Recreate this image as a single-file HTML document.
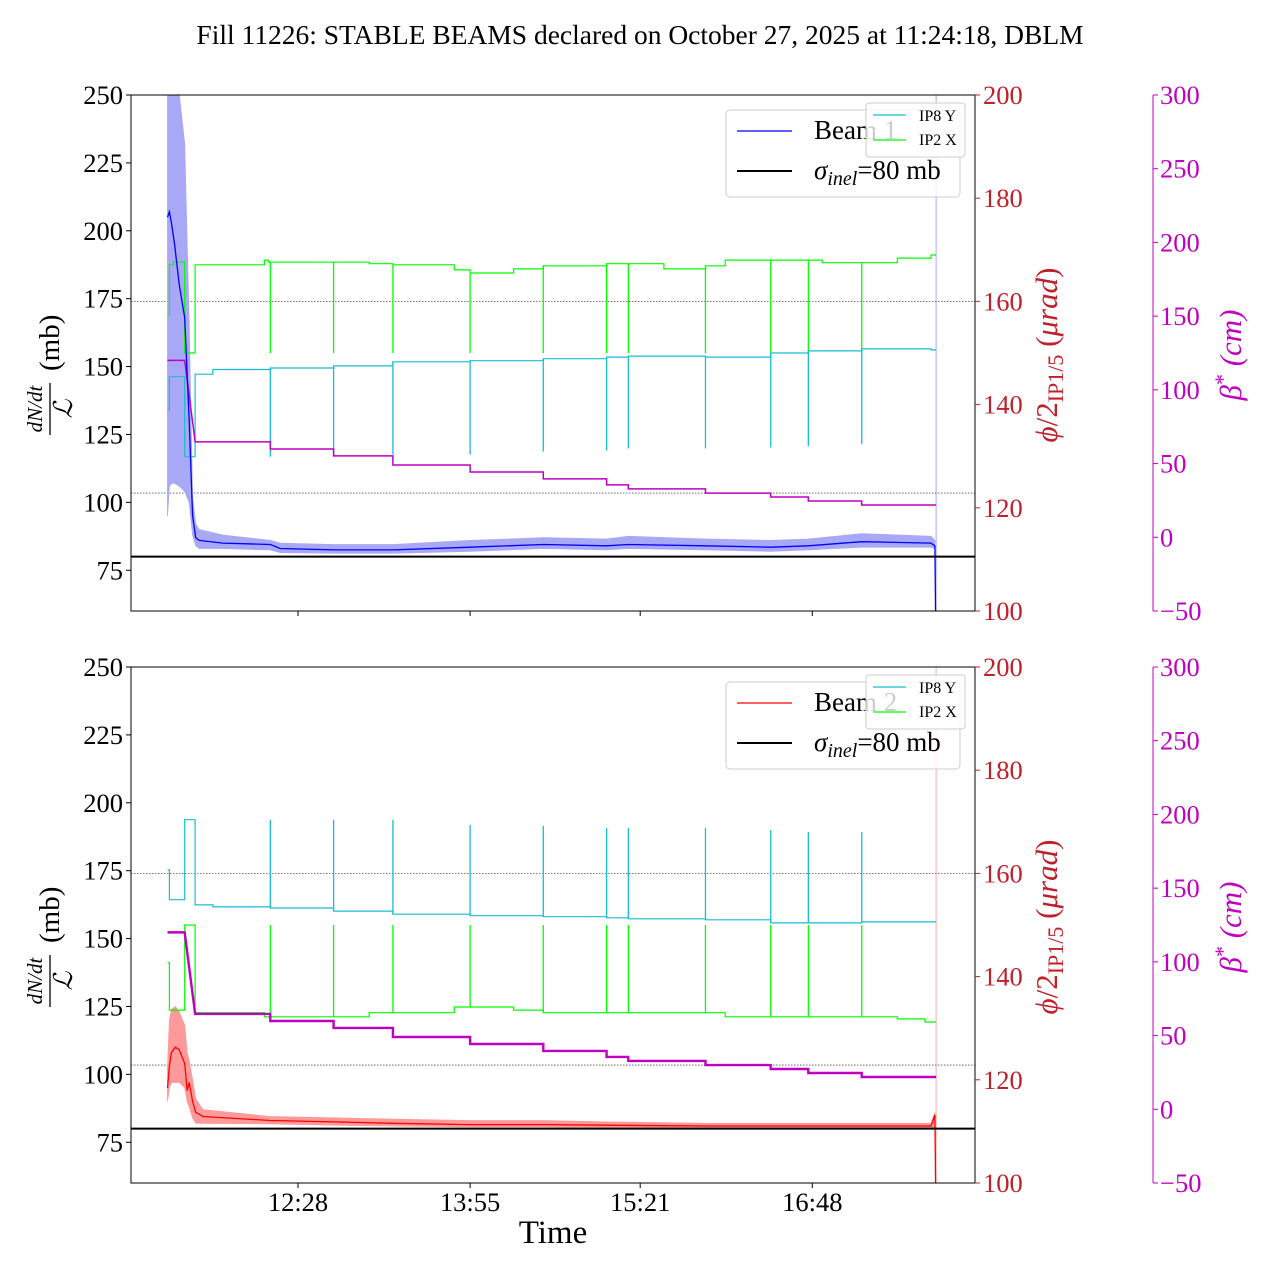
<!DOCTYPE html>
<html><head><meta charset="utf-8"><style>
html,body{margin:0;padding:0;background:#fff;}
svg{display:block;font-family:"Liberation Serif","DejaVu Serif",serif;}
</style></head><body>
<svg id="c" width="1280" height="1280" viewBox="0 0 1280 1280">
<text x="640" y="44" text-anchor="middle" font-size="27.5">Fill 11226: STABLE BEAMS declared on October 27, 2025 at 11:24:18, DBLM</text>
</svg>
<script>
// ---- data (t = minutes since 11:00) ----
const xTickTimes = [88, 175, 261, 348];
const xTickLabels = ['12:28', '13:55', '15:21', '16:48'];
const leftTicks = [75, 100, 125, 150, 175, 200, 225, 250];
const redTicks = [100, 120, 140, 160, 180, 200];
const magTicks = [-50, 0, 50, 100, 150, 200, 250, 300];
const dipTimes = [74, 106, 136, 175, 212, 244, 255, 294, 327, 346, 373];
const endTime = 410.6;
// beta* (cm)
const magT = [22, 30.7, 36, 74, 106, 136, 175, 212, 244, 255, 294, 327, 346, 373];
const magV = [120, 120, 64.7, 59.9, 55.2, 49, 44.3, 39.6, 35.5, 32.8, 30, 27.3, 24.6, 21.9];
// top panel crossing angles (urad)
const g1T = [22, 23, 25, 30.7, 36, 71, 73, 124, 136, 167, 175, 197, 212, 244, 273, 294, 304, 353, 391, 408];
const g1V = [157.4, 167.1, 167.6, 150, 167.1, 168, 167.6, 167.3, 167.1, 166.1, 165.5, 166.3, 166.9, 167.3, 166.3, 166.9, 168.0, 167.5, 168.4, 169.0];
const g1Dip = [150, 150, 150, 150, 150, 150, 150, 150, 150, 150, 150];
const c1T = [22, 23, 30.7, 36, 45, 74, 106, 136, 175, 212, 244, 255, 294, 327, 346, 373, 408];
const c1V = [139, 145.4, 129.9, 145.9, 146.8, 147.1, 147.5, 148.3, 148.5, 148.9, 149.2, 149.4, 149.2, 150.0, 150.4, 150.8, 150.6];
const c1Dip = [129.9, 129.9, 130.3, 130.3, 130.9, 131.1, 131.5, 131.5, 131.7, 131.9, 132.3];
// bottom panel crossing angles (urad)
const g2T = [22, 23, 30.7, 36, 71, 124, 167, 197, 212, 304, 391, 405];
const g2V = [142.7, 133.5, 150, 133.0, 132.2, 133.0, 134.1, 133.5, 133.0, 132.2, 131.8, 131.2];
const g2Dip = [150, 150, 150, 150, 150, 150, 150, 150, 150, 150, 150];
const c2T = [22, 23, 30.7, 36, 45, 74, 106, 136, 175, 212, 244, 255, 294, 327, 373, 408];
const c2V = [160.7, 154.9, 170.4, 153.9, 153.5, 153.3, 152.7, 152.1, 151.8, 151.6, 151.4, 151.2, 151.0, 150.4, 150.6, 150.6];
const c2Dip = [170.4, 170.4, 170.4, 169.4, 169.2, 168.8, 168.8, 168.8, 168.4, 168, 168];
// beam losses (mb)
const b1T = [22, 23, 24, 25.6, 28, 30.7, 33, 34.7, 36.3, 38, 50, 74, 79, 106, 136, 175, 212, 244, 255, 294, 327, 346, 373, 408, 410];
const b1V = [205, 207, 203, 195, 180, 168, 130, 95, 87, 86, 85, 84.5, 83, 82.5, 82.5, 83.5, 84.5, 84, 84.5, 84, 83.5, 84, 85.5, 85, 84];
const b1Up = [262, 262, 262, 262, 250, 232, 165, 102, 92, 90, 88, 86, 85, 84.5, 84.5, 86, 87, 86.5, 87.5, 86.5, 86, 86.5, 88.5, 87.5, 86];
const b1Lo = [95, 106, 107, 107, 106, 104, 100, 88, 84, 83, 83, 82.5, 81.5, 81.3, 81.3, 82, 83, 82.5, 83, 82.5, 82, 82.5, 83.5, 83.5, 83];
const b2T = [22, 23, 24, 26, 28, 30.7, 32, 33, 34.7, 36.3, 40, 74, 106, 136, 175, 212, 244, 294, 373, 408, 410];
const b2V = [95, 103, 108, 110, 109, 104, 94, 97, 90, 86, 84.5, 83, 82.5, 82, 81.5, 81.5, 81.3, 81, 81, 81, 85];
const b2Up = [103, 120, 124, 125, 123, 118, 108, 105, 98, 91, 87, 84.5, 84, 83.5, 83, 83, 82.5, 82, 82, 82, 86];
const b2Lo = [90, 95, 97, 97, 97, 95, 90, 88, 84, 82, 82, 81.8, 81.3, 81, 80.7, 80.7, 80.5, 80.3, 80.3, 80.3, 80];

// ---- layout ----
const NS = 'http://www.w3.org/2000/svg';
const svg = document.getElementById('c');
const L = 131, R = 975, H = 516, MAGX = 1153;
const xs = t => 298 + (t - 88) * 1.978;
function mk(tag, attrs, parent) {
  const e = document.createElementNS(NS, tag);
  for (const k in attrs) e.setAttribute(k, attrs[k]);
  (parent || svg).appendChild(e);
  return e;
}
function stepAt(T, V, t) { let v = V[0]; for (let i = 0; i < T.length; i++) if (T[i] <= t) v = V[i]; return v; }
function stepPath(T, V, yf) {
  let d = 'M' + xs(T[0]).toFixed(1) + ' ' + yf(V[0]).toFixed(1);
  for (let i = 1; i < T.length; i++) d += ' H' + xs(T[i]).toFixed(1) + ' V' + yf(V[i]).toFixed(1);
  d += ' H' + xs(endTime).toFixed(1);
  return d;
}
function linePath(T, V, yf) {
  return T.map((t, i) => (i ? 'L' : 'M') + xs(t).toFixed(1) + ' ' + yf(V[i]).toFixed(1)).join(' ');
}

function panel(top, idx) {
  const yL = v => top + (250 - v) * H / 190;
  const yR = v => top + (200 - v) * H / 100;
  const yM = v => top + (300 - v) * H / 350;
  const g = mk('g', {});
  
  
  const clipId = 'clip' + idx;
  const cp = mk('clipPath', { id: clipId }, g);
  mk('rect', { x: L, y: top, width: R - L, height: H }, cp);
  const plot = mk('g', { 'clip-path': 'url(#' + clipId + ')' }, g);

  let e = mk('line', { x1: L, x2: R, y1: yR(160), y2: yR(160), stroke: '#8b3a3a', 'stroke-width': 0.8, 'stroke-dasharray': '1.5,1.5' }, plot);
  
  
  e = mk('line', { x1: L, x2: R, y1: yM(30), y2: yM(30), stroke: '#555', 'stroke-width': 0.8, 'stroke-dasharray': '1.5,1.5' }, plot);
  
  

  const GT = idx ? g2T : g1T, GV = idx ? g2V : g1V, GD = idx ? g2Dip : g1Dip;
  const CT = idx ? c2T : c1T, CV = idx ? c2V : c1V, CD = idx ? c2Dip : c1Dip;
  const BT = idx ? b2T : b1T, BV = idx ? b2V : b1V, BU = idx ? b2Up : b1Up, BL = idx ? b2Lo : b1Lo;
  const bcol = idx ? '#ff0000' : '#0000ff';
  const bfill = idx ? '#ff9a9a' : '#a8a8f6';

  let d = BT.map((t, i) => (i ? 'L' : 'M') + xs(t).toFixed(1) + ' ' + yL(BU[i]).toFixed(1)).join(' ');
  for (let i = BT.length - 1; i >= 0; i--) d += ' L' + xs(BT[i]).toFixed(1) + ' ' + yL(BL[i]).toFixed(1);
  e = mk('path', { d: d + 'Z', fill: bfill, stroke: bfill, 'stroke-width': 0.8 }, plot);
  
  

  e = mk('path', { d: stepPath(GT, GV, yR), fill: 'none', stroke: '#00ff00', 'stroke-width': 1.2 }, plot);
  
  
  dipTimes.forEach((t, i) => {
    const x = xs(t);
    const dip = mk('line', { x1: x, x2: x, y1: yR(stepAt(GT, GV, t)), y2: yR(GD[i]), stroke: '#00ff00', 'stroke-width': 1.3 }, plot);
    
    
  });
  e = mk('path', { d: stepPath(CT, CV, yR), fill: 'none', stroke: '#17becf', 'stroke-width': 1.2 }, plot);
  
  
  dipTimes.forEach((t, i) => {
    const x = xs(t);
    const dip = mk('line', { x1: x, x2: x, y1: yR(stepAt(CT, CV, t)), y2: yR(CD[i]), stroke: '#17becf', 'stroke-width': 1.3 }, plot);
    
    
  });
  let md = 'M' + xs(magT[0]) + ' ' + yM(magV[0]) + ' L' + xs(magT[1]) + ' ' + yM(magV[1]) + ' L' + xs(magT[2]) + ' ' + yM(magV[2]);
  for (let i = 3; i < magT.length; i++) md += ' H' + xs(magT[i]).toFixed(1) + ' V' + yM(magV[i]).toFixed(1);
  md += ' H' + xs(endTime).toFixed(1);
  e = mk('path', { d: md, fill: 'none', stroke: '#c000c0', 'stroke-width': idx ? 2.4 : 1.5 }, plot);
  
  

  e = mk('path', { d: linePath(BT, BV, yL) + ' L' + xs(endTime).toFixed(1) + ' ' + yL(40), fill: 'none', stroke: bcol, 'stroke-width': 1.3 }, plot);
  
  
  e = mk('line', { x1: xs(endTime), x2: xs(endTime), y1: top, y2: top + H, stroke: bcol, 'stroke-opacity': 0.35, 'stroke-width': 1 }, plot);
  
  
  e = mk('line', { x1: L, x2: R, y1: yL(80), y2: yL(80), stroke: '#000', 'stroke-width': 2 }, plot);
  
  

  e = mk('rect', { x: L, y: top, width: R - L, height: H, fill: 'none', stroke: '#000', 'stroke-width': 1 }, g);
  
  

  leftTicks.forEach(v => {
    mk('line', { x1: L - 5, x2: L, y1: yL(v), y2: yL(v), stroke: '#000' }, g);
    const t = mk('text', { x: L - 8, y: yL(v) + 9, 'text-anchor': 'end', 'font-size': 26.5 }, g);
    t.textContent = v;
    
    
  });
  redTicks.forEach(v => {
    mk('line', { x1: R, x2: R + 5, y1: yR(v), y2: yR(v), stroke: '#c0202a' }, g);
    const t = mk('text', { x: R + 8, y: yR(v) + 9, 'font-size': 26.5, fill: '#c0202a' }, g);
    t.textContent = v;
    
    
  });
  e = mk('line', { x1: MAGX, x2: MAGX, y1: top, y2: top + H, stroke: '#c000c0' }, g);
  
  
  magTicks.forEach(v => {
    mk('line', { x1: MAGX, x2: MAGX + 5, y1: yM(v), y2: yM(v), stroke: '#c000c0' }, g);
    const t = mk('text', { x: MAGX + 7, y: yM(v) + 9, 'font-size': 26.5, fill: '#c000c0' }, g);
    t.textContent = (v < 0 ? '\u2212' + (-v) : v);
    
    
  });
  xTickTimes.forEach((tt, i) => {
    mk('line', { x1: xs(tt), x2: xs(tt), y1: top + H, y2: top + H + 5, stroke: '#000' }, g);
    if (idx) {
      const t = mk('text', { x: xs(tt), y: top + H + 28, 'text-anchor': 'middle', 'font-size': 26.5 }, g);
      t.textContent = xTickLabels[i];
      
      
    }
  });

  const cy = top + 258;
  const la = mk('g', { transform: 'translate(50,' + cy + ') rotate(-90)' }, g);
  
  
  let t = mk('text', { x: -56, y: -8, 'text-anchor': 'middle', 'font-size': 21, 'font-style': 'italic' }, la); t.textContent = 'dN/dt';
  mk('line', { x1: -82, x2: -30, y1: 0, y2: 0, stroke: '#000', 'stroke-width': 1.3 }, la);
  t = mk('text', { x: -56, y: 22, 'text-anchor': 'middle', 'font-size': 26, 'font-style': 'italic' }, la); t.textContent = '\u2112';
  t = mk('text', { x: -18, y: 9, 'font-size': 29 }, la); t.textContent = '(mb)';

  const ra = mk('text', { transform: 'translate(1057,' + (cy + 2) + ') rotate(-90)', 'text-anchor': 'middle', 'font-size': 31, fill: '#c0202a' }, g);
  
  
  ra.innerHTML = '<tspan font-style="italic">\u03d5</tspan>/2<tspan font-size="22" dy="6">IP1/5</tspan><tspan dy="-6"> (</tspan><tspan font-style="italic">\u03bcrad</tspan>)';
  const ma = mk('text', { transform: 'translate(1241,' + (cy + 2) + ') rotate(-90)', 'text-anchor': 'middle', 'font-size': 31, fill: '#c000c0' }, g);
  
  
  ma.innerHTML = '<tspan font-style="italic">\u03b2</tspan><tspan font-size="22" dy="-11">*</tspan><tspan dy="11" font-style="italic"> (cm)</tspan>';

  const lg = mk('g', {}, g);
  
  
  mk('rect', { x: 726, y: top + 15, width: 234, height: 87, rx: 4, fill: '#fff', 'fill-opacity': 0.8, stroke: '#ccc' }, lg);
  mk('line', { x1: 737, x2: 792, y1: top + 36, y2: top + 36, stroke: bcol, 'stroke-width': 1.2 }, lg);
  t = mk('text', { x: 814, y: top + 44, 'font-size': 27 }, lg); t.textContent = idx ? 'Beam 2' : 'Beam 1';
  mk('line', { x1: 737, x2: 792, y1: top + 76, y2: top + 76, stroke: '#000', 'stroke-width': 2 }, lg);
  t = mk('text', { x: 814, y: top + 84, 'font-size': 27 }, lg);
  t.innerHTML = '<tspan font-style="italic">\u03c3</tspan><tspan font-style="italic" font-size="20" dy="6">inel</tspan><tspan dy="-6">=80 mb</tspan>';
  const lg2 = mk('g', {}, g);
  
  
  mk('rect', { x: 866, y: top + 8, width: 99, height: 54, rx: 3, fill: '#fff', 'fill-opacity': 0.8, stroke: '#ccc' }, lg2);
  mk('line', { x1: 873, x2: 906, y1: top + 20, y2: top + 20, stroke: '#17becf', 'stroke-width': 1.2 }, lg2);
  t = mk('text', { x: 919, y: top + 26, 'font-size': 16 }, lg2); t.textContent = 'IP8 Y';
  mk('line', { x1: 873, x2: 906, y1: top + 45, y2: top + 45, stroke: '#00ff00', 'stroke-width': 1.2 }, lg2);
  t = mk('text', { x: 919, y: top + 50, 'font-size': 16 }, lg2); t.textContent = 'IP2 X';
}
panel(95, 0);
panel(667, 1);
const xt = mk('text', { x: 553, y: 1243, 'text-anchor': 'middle', 'font-size': 33 });
xt.textContent = 'Time';


</script>
</body></html>
